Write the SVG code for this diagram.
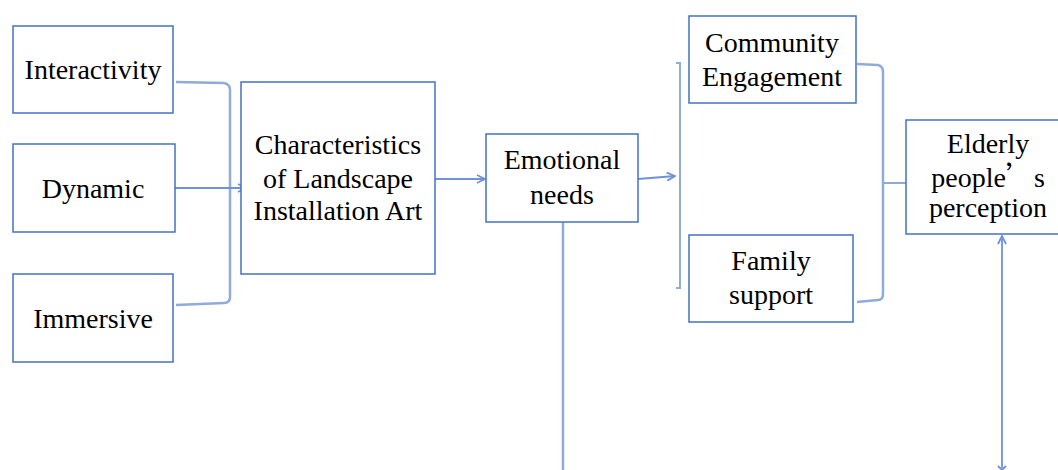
<svg xmlns="http://www.w3.org/2000/svg" width="1058" height="470" viewBox="0 0 1058 470">
<defs>
<style>
.box{fill:#fff;stroke:#4472C4;stroke-width:1.5}
.t{font-family:"Liberation Serif","Times New Roman",serif;font-size:28px;fill:#000;text-anchor:middle}
.br{fill:none;stroke:#8FAADC;stroke-width:2.5}
.ln{fill:none;stroke:#6F92DA;stroke-width:1.8}
</style>
<marker id="ah" markerWidth="10" markerHeight="10" refX="9" refY="5" orient="auto" markerUnits="userSpaceOnUse">
<path d="M1,1 L9,5 L1,9" fill="none" stroke="#6F92DA" stroke-width="1.8"/>
</marker>
</defs>
<rect width="1058" height="470" fill="#fff"/>
<g id="connectors">
<path class="br" d="M176,82 L224,83 Q230,84 230,90 L230,297 Q230,303 224,303 L176,305"/>
<path class="ln" d="M167,188 L246,188" marker-end="url(#ah)"/>
<path class="ln" d="M435,179 L485,179" marker-end="url(#ah)"/>
<path class="ln" d="M638,179 L675,176" marker-end="url(#ah)"/>
<path class="br" d="M676,63 L680,63 L680,288 L676,288" style="stroke-width:2"/>
<path class="br" d="M857,64 L878,65 Q883,66 883,72 L883,294 Q883,300 878,300 L857,302"/>
<path class="br" d="M883,183 L906,183" style="stroke-width:2"/>
<path class="ln" d="M563,222 L563,470" style="stroke:#8FAADC;stroke-width:2.5"/>
<path class="ln" d="M1002,468 L1002,236" marker-end="url(#ah)"/>
<path class="ln" d="M998,466 L1002,470 L1006,466"/>
</g>
<g id="interactivity"><rect class="box" x="13" y="26" width="160" height="87"/><text class="t" x="93" y="79">Interactivity</text></g>
<g id="dynamic"><rect class="box" x="13" y="144" width="162" height="88"/><text class="t" x="93" y="198">Dynamic</text></g>
<g id="immersive"><rect class="box" x="13" y="274" width="160" height="88"/><text class="t" x="93" y="328">Immersive</text></g>
<g id="characteristics"><rect class="box" x="241" y="82" width="194" height="192"/>
<text class="t" x="338" y="154">Characteristics</text><text class="t" x="338" y="188">of Landscape</text><text class="t" x="338" y="220">Installation Art</text></g>
<g id="emotional"><rect class="box" x="486" y="134" width="152" height="88"/>
<text class="t" x="562" y="169">Emotional</text><text class="t" x="562" y="204">needs</text></g>
<g id="community"><rect class="box" x="689" y="16" width="167" height="87"/>
<text class="t" x="772" y="52">Community</text><text class="t" x="772" y="86">Engagement</text></g>
<g id="family"><rect class="box" x="689" y="235" width="164" height="87"/>
<text class="t" x="771" y="270">Family</text><text class="t" x="771" y="304">support</text></g>
<g id="elderly"><rect class="box" x="906" y="120" width="160" height="114"/>
<text class="t" x="988" y="153">Elderly</text><text class="t" x="988" y="187">people<tspan font-family="'Noto Sans CJK SC', sans-serif">’</tspan>s</text><text class="t" x="988" y="217">perception</text></g>
</svg>
